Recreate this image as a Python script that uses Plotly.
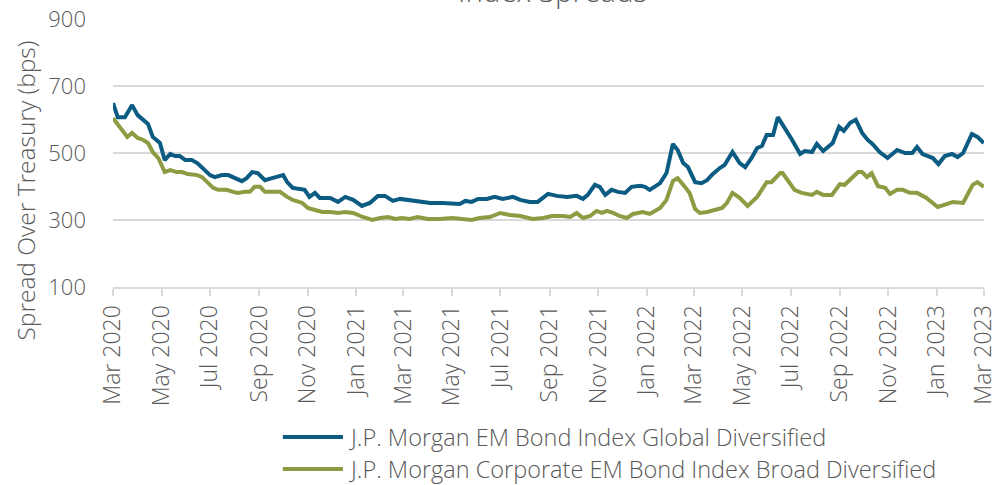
import plotly.graph_objects as go

# J.P. Morgan EM Bond Index Global Diversified (bps)
embi_dates = [
    "2020-03-01", "2020-03-07", "2020-03-16", "2020-03-25", "2020-04-01", "2020-04-08", "2020-04-14",
    "2020-04-20", "2020-04-29", "2020-05-05", "2020-05-12", "2020-05-18", "2020-05-24", "2020-05-31",
    "2020-06-08", "2020-06-15", "2020-06-22", "2020-07-01", "2020-07-07", "2020-07-16", "2020-07-24",
    "2020-08-01", "2020-08-10", "2020-08-16", "2020-08-23", "2020-08-30", "2020-09-08", "2020-09-17",
    "2020-09-23", "2020-10-01", "2020-10-06", "2020-10-13", "2020-10-20", "2020-10-28", "2020-11-03",
    "2020-11-10", "2020-11-16", "2020-11-29", "2020-12-09", "2020-12-18", "2020-12-28", "2021-01-08",
    "2021-01-18", "2021-01-28", "2021-02-06", "2021-02-16", "2021-02-25", "2021-03-07", "2021-03-18",
    "2021-04-04", "2021-04-20", "2021-05-11", "2021-05-18", "2021-05-26", "2021-06-03", "2021-06-14",
    "2021-06-24", "2021-07-04", "2021-07-17", "2021-07-26", "2021-08-07", "2021-08-17", "2021-08-30",
    "2021-09-10", "2021-09-23", "2021-10-05", "2021-10-13", "2021-10-19", "2021-10-28", "2021-11-03",
    "2021-11-10", "2021-11-18", "2021-11-26", "2021-12-05", "2021-12-13", "2021-12-24", "2021-12-30",
    "2022-01-05", "2022-01-18", "2022-01-26", "2022-02-03", "2022-02-09", "2022-02-16", "2022-02-22",
    "2022-03-03", "2022-03-11", "2022-03-18", "2022-03-25", "2022-04-03", "2022-04-09", "2022-04-19",
    "2022-04-28", "2022-05-05", "2022-05-13", "2022-05-20", "2022-05-26", "2022-06-01", "2022-06-09",
    "2022-06-15", "2022-06-24", "2022-07-03", "2022-07-13", "2022-07-19", "2022-07-28", "2022-08-03",
    "2022-08-11", "2022-08-23", "2022-08-31", "2022-09-06", "2022-09-14", "2022-09-21", "2022-09-29",
    "2022-10-06", "2022-10-12", "2022-10-21", "2022-10-31", "2022-11-12", "2022-11-22", "2022-12-01",
    "2022-12-07", "2022-12-14", "2022-12-27", "2023-01-03", "2023-01-11", "2023-01-20", "2023-01-27",
    "2023-02-03", "2023-02-14", "2023-02-21", "2023-03-01",
]
embi_spread = [
    649, 607, 607, 643, 613, 598, 587,
    548, 530, 479, 497, 491, 491, 479,
    479, 470, 455, 434, 428, 434, 434,
    425, 416, 425, 443, 440, 419, 425,
    428, 434, 413, 396, 393, 390, 369,
    381, 366, 366, 354, 369, 360, 342,
    351, 372, 372, 357, 363, 360, 354,
    351, 351, 348, 357, 354, 363, 363,
    369, 363, 369, 360, 354, 354, 378,
    372, 369, 372, 363, 375, 405, 399,
    375, 390, 384, 381, 399, 402, 399,
    390, 410, 440, 527, 509, 470, 458,
    413, 410, 419, 437, 455, 464, 503,
    470, 458, 485, 515, 521, 554, 554,
    607, 575, 539, 497, 506, 503, 527,
    506, 530, 578, 566, 590, 599, 560,
    539, 527, 503, 485, 509, 500, 500,
    518, 497, 485, 467, 491, 497, 488,
    500, 557, 548, 530,
]

# J.P. Morgan Corporate EM Bond Index Broad Diversified (bps)
cembi_dates = [
    "2020-03-01", "2020-03-10", "2020-03-19", "2020-03-25", "2020-04-01", "2020-04-08", "2020-04-14",
    "2020-04-20", "2020-04-27", "2020-05-05", "2020-05-12", "2020-05-20", "2020-05-27", "2020-06-03",
    "2020-06-15", "2020-06-21", "2020-06-27", "2020-07-05", "2020-07-11", "2020-07-22", "2020-07-30",
    "2020-08-05", "2020-08-14", "2020-08-20", "2020-08-26", "2020-09-02", "2020-09-08", "2020-09-17",
    "2020-09-27", "2020-10-06", "2020-10-13", "2020-10-25", "2020-11-01", "2020-11-10", "2020-11-19",
    "2020-11-29", "2020-12-09", "2020-12-18", "2020-12-28", "2021-01-09", "2021-01-21", "2021-01-31",
    "2021-02-10", "2021-02-19", "2021-02-27", "2021-03-09", "2021-03-19", "2021-04-01", "2021-04-16",
    "2021-05-02", "2021-05-14", "2021-05-26", "2021-06-05", "2021-06-18", "2021-07-01", "2021-07-13",
    "2021-07-26", "2021-08-11", "2021-08-24", "2021-09-04", "2021-09-18", "2021-09-27", "2021-10-05",
    "2021-10-13", "2021-10-22", "2021-10-30", "2021-11-06", "2021-11-12", "2021-11-20", "2021-11-28",
    "2021-12-07", "2021-12-15", "2021-12-27", "2022-01-05", "2022-01-18", "2022-01-26", "2022-02-03",
    "2022-02-09", "2022-02-18", "2022-02-24", "2022-03-03", "2022-03-09", "2022-03-18", "2022-03-28",
    "2022-04-06", "2022-04-12", "2022-04-19", "2022-04-28", "2022-05-08", "2022-05-20", "2022-05-26",
    "2022-06-01", "2022-06-07", "2022-06-18", "2022-06-21", "2022-06-30", "2022-07-06", "2022-07-15",
    "2022-07-28", "2022-08-03", "2022-08-11", "2022-08-22", "2022-09-01", "2022-09-07", "2022-09-16",
    "2022-09-24", "2022-09-29", "2022-10-05", "2022-10-11", "2022-10-19", "2022-10-28", "2022-11-03",
    "2022-11-12", "2022-11-19", "2022-11-28", "2022-12-07", "2022-12-19", "2023-01-02", "2023-01-14",
    "2023-01-21", "2023-02-03", "2023-02-15", "2023-02-21", "2023-03-01",
]
cembi_spread = [
    604, 575, 548, 560, 545, 539, 530,
    503, 485, 443, 449, 443, 443, 437,
    434, 428, 413, 396, 390, 390, 384,
    381, 384, 384, 399, 399, 384, 384,
    384, 369, 360, 351, 336, 330, 324,
    324, 321, 324, 321, 309, 300, 306,
    309, 303, 306, 303, 309, 303, 303,
    306, 303, 300, 306, 309, 321, 315,
    312, 303, 306, 312, 312, 309, 321,
    306, 312, 327, 321, 327, 321, 312,
    306, 318, 324, 318, 336, 360, 416,
    425, 399, 381, 333, 321, 324, 330,
    336, 351, 381, 366, 342, 369, 393,
    413, 413, 440, 440, 410, 390, 381,
    375, 384, 375, 375, 407, 405, 425,
    443, 443, 428, 440, 401, 396, 378,
    390, 390, 381, 381, 366, 339, 348,
    354, 351, 405, 413, 399,
]

series_names = [
    "J.P. Morgan EM Bond Index Global Diversified",
    "J.P. Morgan Corporate EM Bond Index Broad Diversified",
]

BLUE = "#0b5b82"
GREEN = "#8d9c42"
GREY_TEXT = "#595959"
GRID = "#d9d9d9"
FONT = "Open Sans"

fig = go.Figure()
fig.add_trace(go.Scatter(x=embi_dates, y=embi_spread, mode="lines",
                         name=series_names[0], line=dict(color=BLUE, width=4)))
fig.add_trace(go.Scatter(x=cembi_dates, y=cembi_spread, mode="lines",
                         name=series_names[1], line=dict(color=GREEN, width=4)))

fig.update_xaxes(type="date", range=["2020-03-01", "2023-03-01 06:00"],
                 tick0="2020-03-01", dtick="M2", tickformat="%b %Y", tickangle=-90,
                 showgrid=False, showline=True, linecolor=GRID, linewidth=2,
                 ticks="outside", ticklen=7, tickcolor=GRID, tickwidth=2,
                 automargin=False, ticklabeloverflow="allow",
                 tickfont=dict(size=23, color=GREY_TEXT, family=FONT, weight=300))
fig.update_yaxes(range=[100, 900], tick0=100, dtick=200,
                 showgrid=True, gridcolor=GRID, gridwidth=2, zeroline=False,
                 ticklabelstandoff=26, automargin=False, ticklabeloverflow="allow",
                 tickfont=dict(size=22, color=GREY_TEXT, family=FONT, weight=300))

fig.add_annotation(text="Spread Over Treasury (bps)", textangle=-90,
                   xref="paper", yref="paper", x=-0.101, y=0.36,
                   xanchor="center", yanchor="middle", showarrow=False,
                   font=dict(size=24.5, color=GREY_TEXT, family=FONT, weight=300))
fig.add_annotation(text="Index Spreads", xref="paper", yref="paper",
                   x=0.505, y=1.022, xanchor="center", yanchor="bottom", showarrow=False,
                   font=dict(size=29.5, color=GREY_TEXT, family=FONT, weight=300))

# legend below the axis, drawn by hand so it keeps the plot area fixed
legend_rows = [-0.56, -0.679]
for name, color, row in zip(series_names, [BLUE, GREEN], legend_rows):
    fig.add_shape(type="line", xref="paper", yref="paper",
                  x0=0.195, x1=0.264, y0=row, y1=row,
                  line=dict(color=color, width=4))
    fig.add_annotation(text=name, xref="paper", yref="paper",
                       x=0.268, y=row, xanchor="left", yanchor="middle", showarrow=False,
                       font=dict(size=23.5, color=GREY_TEXT, family=FONT, weight=300))

fig.update_layout(
    width=993, height=485,
    margin=dict(l=113, r=9, t=19, b=198),
    plot_bgcolor="white", paper_bgcolor="white",
    showlegend=False,
)

# drop the default page margin so the figure sits at the window's top-left corner
fig.write_html("out.html", config={"displayModeBar": False},
               post_script="document.body.style.margin = '0';")
